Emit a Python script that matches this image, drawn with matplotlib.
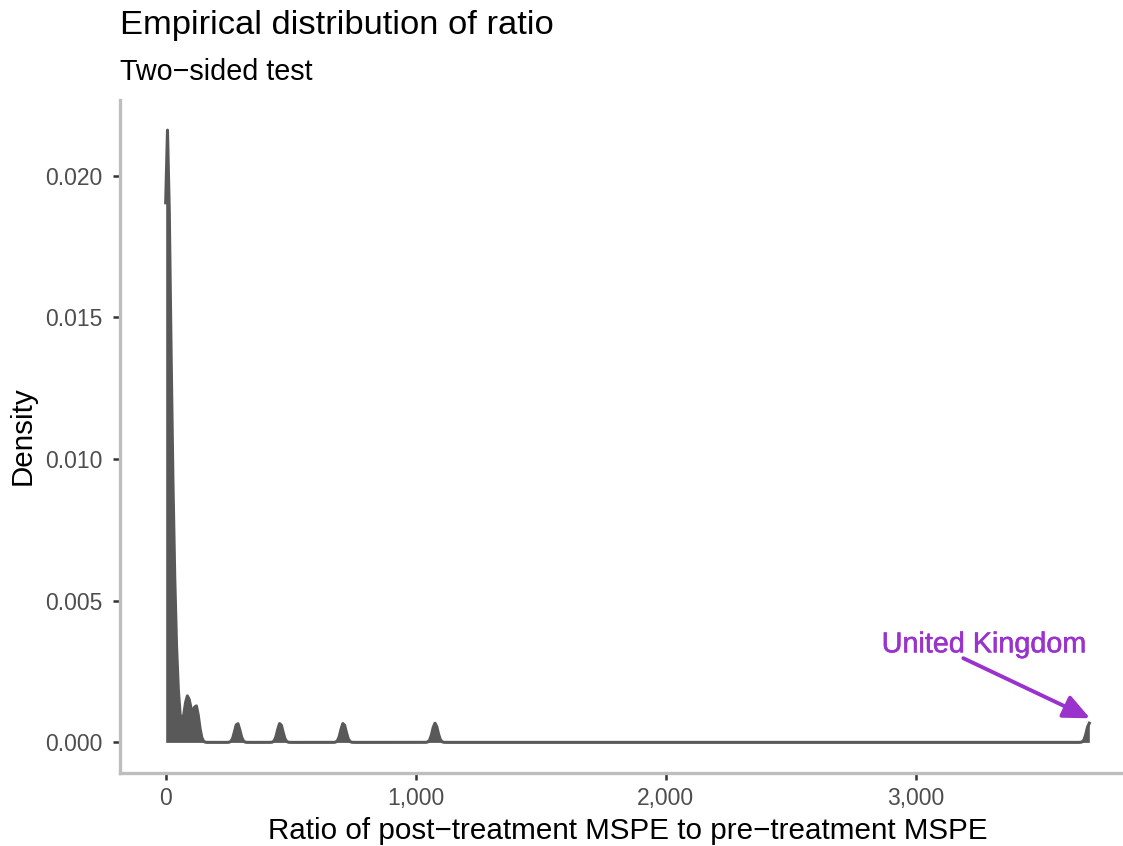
import numpy as np
import matplotlib
matplotlib.use('Agg')
import matplotlib.pyplot as plt
import matplotlib.patheffects as pe
from matplotlib.ticker import FuncFormatter
from matplotlib.patches import FancyArrowPatch

# Post/pre-treatment MSPE ratios of the placebo units
ratio_cluster = [0.3, 0.5, 0.7, 0.9, 1.0, 1.2, 1.4, 1.6, 1.8, 2.0, 2.2, 2.4,
                 2.6, 2.8, 3.0, 3.3, 3.6, 3.9, 4.2, 4.5, 4.8, 5.2,
                 8.0, 9.0, 10.0, 10.8, 11.5, 12.2, 13.0, 13.8, 14.6, 15.5, 16.5,
                 19.5, 21.0, 22.5, 23.5, 24.5, 26.0, 27.5, 29.0,
                 33.0, 36.5, 40.0, 50.0]
ratio_bumps = [78, 88, 96, 118, 126]
ratio_isolated = [287, 458, 711, 1078]
uk_ratio = 3695
bandwidth = 10.7

ratios = np.array(ratio_cluster + ratio_bumps + ratio_isolated + [uk_ratio], dtype=float)

x_ticks = [0, 1000, 2000, 3000]
y_ticks = [0.0, 0.005, 0.010, 0.015, 0.020]


def density(values, bw, n=512):
    # Gaussian kernel density evaluated over the data range (like geom_density)
    grid = np.linspace(values.min(), values.max(), n)
    z = (grid[:, None] - values[None, :]) / bw
    dens = np.exp(-0.5 * z ** 2).sum(axis=1) / (len(values) * bw * np.sqrt(2 * np.pi))
    return grid, dens


plt.rcParams['font.family'] = ['Liberation Sans', 'DejaVu Sans']

fig = plt.figure(figsize=(11.23, 8.46), dpi=100)
ax = fig.add_axes([119.5 / 1123, 73 / 846, 1016 / 1123, 673.5 / 846])

grid, dens = density(ratios, bandwidth)
fill_col = '#595959'
ax.fill_between(grid, dens, 0, color=fill_col, lw=0)
ax.plot(grid, dens, color=fill_col, lw=2.2, solid_joinstyle='round')

# ggplot style 5% expansion
x_span = ratios.max() - ratios.min()
ax.set_xlim(ratios.min() - 0.05 * x_span, ratios.max() + 0.05 * x_span)
ax.set_ylim(-0.05 * dens.max(), 1.05 * dens.max())

ax.set_xticks(x_ticks)
ax.set_yticks(y_ticks)
ax.xaxis.set_major_formatter(FuncFormatter(lambda v, p: f'{v:,.0f}'))
ax.yaxis.set_major_formatter(FuncFormatter(lambda v, p: f'{v:.3f}'))

for side in ['top', 'right']:
    ax.spines[side].set_visible(False)
for side in ['left', 'bottom']:
    ax.spines[side].set_color('#BEBEBE')
    ax.spines[side].set_linewidth(2.4)
ax.tick_params(axis='both', direction='out', length=5, width=1.8, color='#333333',
               labelsize=16.5, labelcolor='#4D4D4D')
ax.tick_params(axis='y', pad=7)
ax.tick_params(axis='x', pad=5)

# annotation for the treated unit
purple = '#9A32CD'
arrow = FancyArrowPatch((3191, 0.00297), (3698, 0.00085),
                        arrowstyle='-|>,head_length=0.8,head_width=0.36',
                        mutation_scale=20, color=purple, lw=2.8,
                        shrinkA=0, shrinkB=0)
ax.add_patch(arrow)
ax.text(3274, 0.00346, 'United Kingdom', color=purple, fontsize=20.7,
        ha='center', va='center',
        path_effects=[pe.withStroke(linewidth=0.4, foreground=purple)])

fig.text(119.5 / 1123, 1 - 34 / 846, 'Empirical distribution of ratio',
         fontsize=24.8, va='baseline', ha='left')
fig.text(119.5 / 1123, 1 - 80 / 846, 'Two\u2212sided test',
         fontsize=20.7, va='baseline', ha='left')
fig.text(627.5 / 1123, 1 - 839 / 846,
         'Ratio of post\u2212treatment MSPE to pre\u2212treatment MSPE',
         fontsize=21.3, va='baseline', ha='center')
fig.text(23 / 1123, 1 - 436 / 846, 'Density', fontsize=21.3, rotation=90,
         va='center', ha='center')

plt.savefig('out.png', dpi=100)
plt.close()
